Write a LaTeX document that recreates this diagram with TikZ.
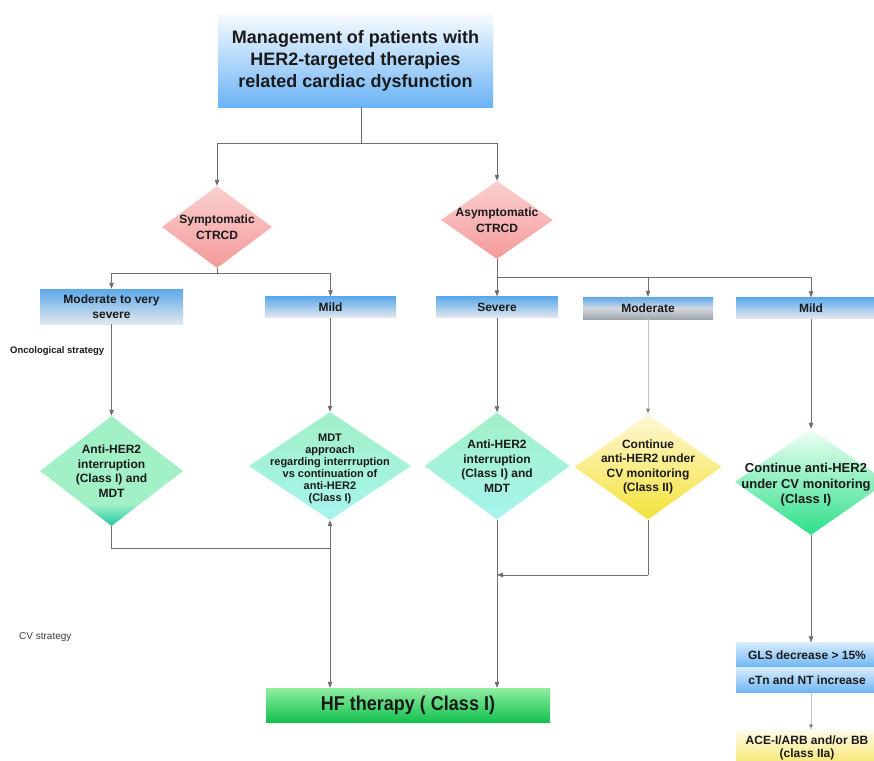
\documentclass[tikz,border=0pt]{standalone}
\usepackage{fontspec}
\usepackage{graphicx}
\setmainfont{Liberation Sans}
\usetikzlibrary{shapes.geometric,arrows.meta}
\definecolor{linegray}{HTML}{6E6E6E}
\definecolor{lightline}{HTML}{C4C4C4}
\definecolor{titletop}{HTML}{F6FAFF}
\definecolor{titlebot}{HTML}{6AB3F6}
\definecolor{boxblue}{HTML}{5AA8EA}
\definecolor{boxpale}{HTML}{E4E8EE}
\definecolor{boxmid}{HTML}{D3D9E0}
\definecolor{boxgray}{HTML}{9EA5AC}
\definecolor{pinktop}{HTML}{FAD0D0}
\definecolor{pinkbot}{HTML}{F59A9A}
\definecolor{mint}{HTML}{A2F0C6}
\definecolor{teal}{HTML}{1FC8A4}
\definecolor{cyanb}{HTML}{A6F4EE}
\definecolor{yelltop}{HTML}{FFF8D6}
\definecolor{yellbot}{HTML}{F3E23A}
\definecolor{gtop}{HTML}{F0FFF5}
\definecolor{gbot}{HTML}{2CDF88}
\definecolor{hftop}{HTML}{90EEA2}
\definecolor{hfbot}{HTML}{14C14F}
\definecolor{lbtop}{HTML}{D8ECFF}
\definecolor{lbbot}{HTML}{6DB5F2}
\definecolor{acetop}{HTML}{FFFBEA}
\definecolor{acebot}{HTML}{F6E568}
\definecolor{txt}{HTML}{1A1A1A}
\pgfdeclareverticalshading{tealtip}{100bp}{color(0bp)=(teal); color(25bp)=(teal); color(35bp)=(mint); color(100bp)=(mint)}
\begin{document}
\begin{tikzpicture}[x=1pt,y=-1pt,
  conn/.style={draw=linegray, line width=0.8pt},
  arr/.style={conn, -{Triangle[length=6pt,width=4.5pt]}},
  dbl/.style={conn, {Triangle[length=6pt,width=4.5pt]}-{Triangle[length=6pt,width=4.5pt]}},
  faint/.style={draw=lightline, line width=0.6pt, -{Triangle[length=6pt,width=4.5pt,fill=linegray]}},
  box/.style={rectangle, inner sep=0pt, align=center, text=txt,
    font=\bfseries\fontsize{12}{15}\selectfont},
  bluebox/.style={box, top color=boxblue, bottom color=boxpale},
  dia/.style={diamond, inner sep=0pt, draw=none},
  dlab/.style={align=center, text=txt, font=\bfseries\fontsize{12}{14.5}\selectfont}
]
\useasboundingbox (0,0) rectangle (874,760);
\clip (0,0) rectangle (874,760);
\fill[white] (0,0) rectangle (874,760);

% title
\node[box, minimum width=275pt, minimum height=92pt, top color=titletop, bottom color=titlebot,
  font=\bfseries\fontsize{18}{22}\selectfont] (title) at (355.5,61)
  {Management of patients with\\HER2-targeted therapies\\related cardiac dysfunction};

% first diamonds
\node[dia, minimum width=110pt, minimum height=82pt, top color=pinktop, bottom color=pinkbot,
  label={[dlab, font=\bfseries\fontsize{12}{15.5}\selectfont]center:Symptomatic\\CTRCD}] (sym) at (217,227) {};
\node[dia, minimum width=112pt, minimum height=78pt, top color=pinktop, bottom color=pinkbot,
  label={[dlab, font=\bfseries\fontsize{12}{15.5}\selectfont]center:Asymptomatic\\CTRCD}] (asym) at (497,220) {};

% severity boxes
\node[bluebox, minimum width=143pt, minimum height=35pt] (mvs) at (111.5,306.5) {Moderate to very\\severe};
\node[bluebox, minimum width=131pt, minimum height=21pt] (mildL) at (330.5,307) {Mild};
\node[bluebox, minimum width=122pt, minimum height=21pt] (severe) at (497,307) {Severe};
\node[box, minimum width=130pt, minimum height=22pt, top color=boxblue, bottom color=boxgray, middle color=boxmid] (moderate) at (648,308) {Moderate};
\node[bluebox, minimum width=150pt, minimum height=21pt] (mildR) at (811,308) {Mild};

% side labels
\node[anchor=west, inner sep=0pt, text=txt, font=\bfseries\fontsize{9.5}{11}\selectfont] (onc) at (10,351) {Oncological strategy};
\node[anchor=west, inner sep=0pt, text=txt!85, font=\fontsize{10}{11}\selectfont] (cvs) at (19,637) {CV strategy};

% second row diamonds
\node[dia, minimum width=143pt, minimum height=110pt, shading=tealtip,
  label={[dlab]center:Anti-HER2\\interruption\\(Class I) and\\MDT}] (d1) at (111.5,471) {};
\node[dia, minimum width=162pt, minimum height=108pt, top color=mint, bottom color=cyanb,
  label={[dlab, font=\bfseries\fontsize{11}{12}\selectfont, yshift=-3pt]center:MDT\\approach\\regarding interrruption\\vs continuation of\\anti-HER2\\(Class I)}] (d2) at (330,466) {};
\node[dia, minimum width=145pt, minimum height=107pt, top color=mint, bottom color=cyanb,
  label={[dlab]center:Anti-HER2\\interruption\\(Class I) and\\MDT}] (d3) at (497,466) {};
\node[dia, minimum width=147pt, minimum height=105pt, top color=yelltop, bottom color=yellbot,
  label={[dlab]center:Continue\\anti-HER2 under\\CV monitoring\\(Class II)}] (d4) at (648,467) {};
\node[dia, minimum width=152pt, minimum height=106pt, top color=gtop, bottom color=gbot,
  label={[dlab, font=\bfseries\fontsize{13}{15.5}\selectfont, xshift=-5pt, yshift=-3pt]center:Continue anti-HER2\\under CV monitoring\\(Class I)}] (d5) at (811,482) {};

% bottom boxes
\node[box, minimum width=284pt, minimum height=34pt, top color=hftop, bottom color=hfbot,
  font=\bfseries\fontsize{20}{22}\selectfont] (hf) at (408,705) {\scalebox{0.9}[1]{HF therapy ( Class I)}};
\node[box, minimum width=150pt, minimum height=25pt, top color=lbtop, bottom color=lbbot,
  font=\bfseries\fontsize{12}{14}\selectfont] (gls) at (811,655) {\hspace*{-8pt}GLS decrease > 15\%};
\node[box, minimum width=150pt, minimum height=25pt, top color=lbtop, bottom color=lbbot,
  font=\bfseries\fontsize{12}{14}\selectfont] (ctn) at (811,680) {\hspace*{-8pt}cTn and NT increase};
\node[box, minimum width=150pt, minimum height=36pt, top color=acetop, bottom color=acebot,
  font=\bfseries\fontsize{12}{13}\selectfont, anchor=north] (ace) at (811,730) {\hspace*{-8pt}\begin{tabular}{@{}c@{}}ACE-I/ARB and/or BB\\(class IIa)\end{tabular}};

% connectors
\coordinate (tj) at (361,143);
\draw[conn] (title.south -| tj) -- (tj);
\draw[arr] (tj) -| (sym.north);
\draw[arr] (tj) -| (asym.north);

\coordinate (sj) at (217,273);
\draw[conn] (sym.south) -- (sj);
\draw[arr] (sj) -| (mvs.north);
\draw[arr] (sj) -| (mildL.north);

\coordinate (aj) at (497,277);
\draw[conn] (asym.south) -- (aj);
\draw[arr] (aj) -- (severe.north);
\draw[arr] (aj) -| (moderate.north);
\draw[arr] (aj) -| (mildR.north);

\draw[arr] (mvs.south) -- (d1.north);
\draw[arr] (mildL.south -| d2.north) -- (d2.north);
\draw[arr] (severe.south) -- (d3.north);
\draw[faint] (moderate.south) -- (d4.north);
\draw[arr] (mildR.south) -- (d5.north);

\coordinate (lj) at (330,548);
\draw[conn] (d1.south) |- (lj);
\draw[dbl] (hf.north -| d2.south) -- (d2.south);

\draw[arr] (d3.south) -- (hf.north -| d3.south);
\coordinate (yj) at (648,575);
\draw[conn] (d4.south) -- (yj);
\draw[arr] (yj) -- (d3.south |- yj);

\draw[arr] (d5.south) -- (gls.north);
\draw[faint] (ctn.south) -- (ace.north);
\end{tikzpicture}
\end{document}
